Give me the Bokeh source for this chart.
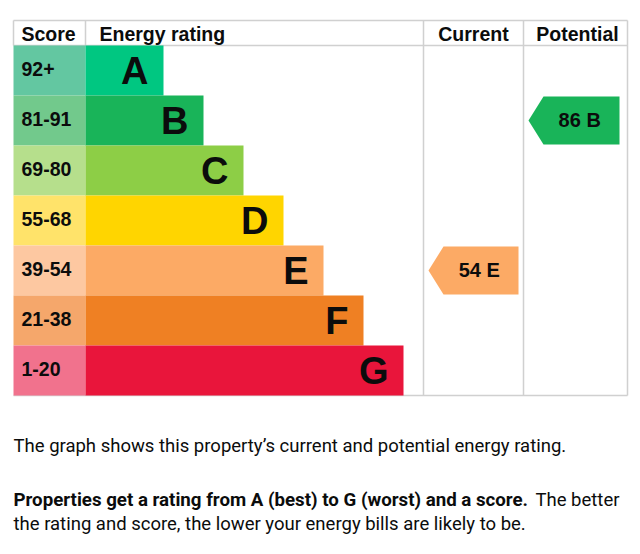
from bokeh.plotting import figure
from bokeh.models import Range1d
from bokeh.core.properties import value
from bokeh.embed import file_html
from bokeh.resources import INLINE

# ---- data ----
bands = ["A", "B", "C", "D", "E", "F", "G"]
score_ranges = ["92+", "81-91", "69-80", "55-68", "39-54", "21-38", "1-20"]
band_min_scores = [92, 81, 69, 55, 39, 21, 1]
current_score = 54
potential_score = 86
headers = ["Score", "Energy rating", "Current", "Potential"]
caption = "The graph shows this property\u2019s current and potential energy rating."
para_bold = "Properties get a rating from A (best) to G (worst) and a score."
para_rest1 = "The better"
para_rest2 = "the rating and score, the lower your energy bills are likely to be."

# ---- styles ----
bar_colors = ["#00c781", "#19b459", "#8dce46", "#ffd500", "#fcaa65", "#ef8023", "#e9153b"]
cell_colors = ["#63c7a1", "#72c98c", "#b6df8c", "#ffe36a", "#fdc8a1", "#f5a76b", "#f1728d"]
grid_color = "#d0d0d0"
TXT = "#0b0c0c"
FONT = value("Liberation Sans")
PFONT = value("Roboto")

# ---- layout (page pixel coordinates) ----
L, X_SCORE_R = 14, 86
X_CUR, X_POT, R = 424, 524, 628
Y_TOP, Y_HEAD = 21, 46
ROW_H = 50
BAR_BASE, BAR_STEP = 124, 40
X0, Y0 = 1, 1
W, H = 632, 546

def band_index(score):
    for i, m in enumerate(band_min_scores):
        if score >= m:
            return i
    return len(bands) - 1

p = figure(width=W, height=H, output_backend="svg", toolbar_location=None,
           x_range=Range1d(X0, X0 + W), y_range=Range1d(Y0 + H, Y0),
           min_border=0, outline_line_color=None)
p.axis.visible = False
p.grid.visible = False
p.background_fill_color = "white"
p.border_fill_color = "white"

n = len(bands)
tops = [Y_HEAD + ROW_H * i for i in range(n)]
bots = [t + ROW_H for t in tops]
mids = [(t + b) / 2 for t, b in zip(tops, bots)]
bar_right = [BAR_BASE + BAR_STEP * (i + 1) for i in range(n)]
Y_BOT = bots[-1]

# grid lines
p.segment(x0=[L, L, L], y0=[Y_TOP, Y_HEAD, Y_BOT], x1=[R, R, R], y1=[Y_TOP, Y_HEAD, Y_BOT],
          line_color=grid_color, line_width=1.5)
p.segment(x0=[L, X_SCORE_R, X_CUR, X_POT, R], y0=[Y_TOP] * 5,
          x1=[L, X_SCORE_R, X_CUR, X_POT, R], y1=[Y_HEAD, Y_HEAD, Y_BOT, Y_BOT, Y_BOT],
          line_color=grid_color, line_width=1.5)

# score cells and bars
p.quad(left=[L] * n, right=[X_SCORE_R] * n, top=tops, bottom=bots,
       fill_color=cell_colors, line_color=None)
p.quad(left=[X_SCORE_R] * n, right=bar_right, top=tops, bottom=bots,
       fill_color=bar_colors, line_color=None)

# header texts
hy = (Y_TOP + Y_HEAD) / 2 + 0.5
p.text(x=[22, 100], y=[hy] * 2, text=headers[:2], text_font=FONT,
       text_font_size="19.5px", text_font_style="bold", text_baseline="middle",
       text_color=TXT)
p.text(x=[(X_CUR + X_POT) / 2, (X_POT + R) / 2 + 2], y=[hy] * 2, text=headers[2:],
       text_font=FONT, text_font_size="19.5px", text_font_style="bold",
       text_baseline="middle", text_align="center", text_color=TXT)

# score labels
p.text(x=[22] * n, y=[m - 2 for m in mids], text=score_ranges, text_font=FONT,
       text_font_size="19.5px", text_font_style="bold", text_baseline="middle",
       text_color=TXT)

# band letters
p.text(x=[r - 15 for r in bar_right], y=mids, text=bands, text_font=FONT,
       text_font_size="38px", text_font_style="bold", text_baseline="middle",
       text_align="right", text_color=TXT)

# arrows
def arrow(score, x_left, x_right):
    i = band_index(score)
    t, b = tops[i] + 1, bots[i] - 1
    tip = 15
    xs = [x_left, x_left + tip, x_right, x_right, x_left + tip]
    ys = [(t + b) / 2, t, t, b, b]
    p.patch(xs, ys, fill_color=bar_colors[i], line_color=None)
    p.text(x=[(x_left + tip + x_right) / 2 + 1], y=[(t + b) / 2 - 0.5],
           text=[f"{score}  {bands[i]}"], text_font=FONT, text_font_size="20px",
           text_font_style="bold", text_baseline="middle", text_align="center",
           text_color=TXT)

arrow(current_score, X_CUR + 5, X_POT - 5)
arrow(potential_score, X_POT + 5, R - 8)

# paragraph text
p.text(x=[L], y=[446], text=[caption], text_font=PFONT, text_font_size="18.5px",
       text_baseline="middle", text_color=TXT)
p.text(x=[L], y=[500.5], text=[para_bold], text_font=PFONT, text_font_size="18.7px",
       text_font_style="bold", text_baseline="middle", text_color=TXT)
p.text(x=[620], y=[500.5], text=[para_rest1], text_font=PFONT, text_font_size="18.5px",
       text_baseline="middle", text_align="right", text_color=TXT)
p.text(x=[L], y=[524], text=[para_rest2], text_font=PFONT, text_font_size="18.5px",
       text_baseline="middle", text_color=TXT)

open("out.html", "w").write(file_html(p, INLINE))
